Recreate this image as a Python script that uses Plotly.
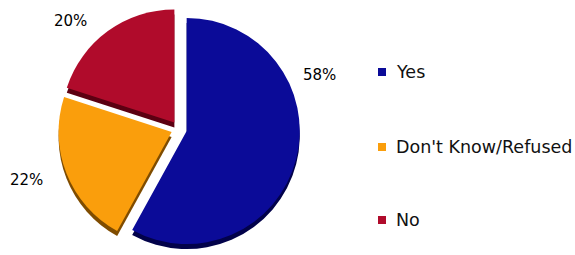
import plotly.graph_objects as go

categories = ["Yes", "Don't Know/Refused", "No"]
values = [58, 22, 20]
colors = ["#0b0b98", "#fa9e0c", "#b00b2b"]
shadow_colors = ["#02024a", "#7f4c00", "#5c0012"]
pulls = [0.07, 0.07, 0.07]
# label anchor points (px from top-left) for the percentage texts
label_pos = [(319, 75), (27, 180), (70, 21)]
# legend rows (px from top)
legend_rows = [72, 147, 220]

W, H = 575, 255
cx = 179
side = 242
depth = 5

xdom = [(cx - side / 2) / W, (cx + side / 2) / W]

fig = go.Figure()
fig.add_trace(go.Pie(
    labels=categories, values=values, sort=False, direction="clockwise", rotation=0,
    pull=pulls, marker=dict(colors=shadow_colors, line=dict(width=0)),
    textinfo="none", hoverinfo="skip", showlegend=False,
    domain=dict(x=xdom, y=[0, side / H]),
))
fig.add_trace(go.Pie(
    labels=categories, values=values, sort=False, direction="clockwise", rotation=0,
    pull=pulls, marker=dict(colors=colors, line=dict(width=0)),
    textinfo="none", showlegend=False,
    domain=dict(x=xdom, y=[depth / H, (side + depth) / H]),
))

for v, (px, py) in zip(values, label_pos):
    fig.add_annotation(
        x=px / W, y=1 - py / H, xref="paper", yref="paper",
        text=f"{v}%", showarrow=False, xanchor="center", yanchor="middle",
        font=dict(family="DejaVu Sans", size=15, color="#000000"),
    )

# legend
for c, col, ry in zip(categories, colors, legend_rows):
    fig.add_shape(type="rect", xref="paper", yref="paper",
                  x0=378 / W, x1=386 / W, y0=1 - (ry + 4) / H, y1=1 - (ry - 4) / H,
                  fillcolor=col, line=dict(width=0))
    fig.add_annotation(
        x=394 / W, y=1 - ry / H, xref="paper", yref="paper",
        text=c, showarrow=False, xanchor="left", yanchor="middle",
        font=dict(family="DejaVu Sans", size=17.5, color="#111111"),
    )

fig.update_layout(
    width=W, height=H, margin=dict(l=0, r=0, t=0, b=0),
    paper_bgcolor="white", plot_bgcolor="white", showlegend=False,
)
fig.write_html("out.html", config={"displayModeBar": False},
               post_script="document.body.style.margin='0px';document.body.style.overflow='hidden';")
